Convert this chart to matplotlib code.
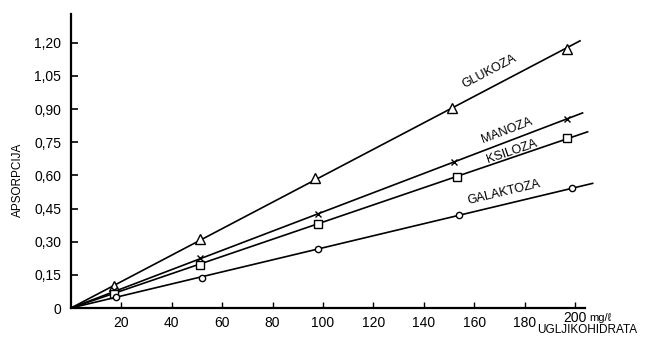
import numpy as np
import matplotlib
matplotlib.use("Agg")
import matplotlib.pyplot as plt
from matplotlib.transforms import ScaledTranslation

plt.rcParams['font.family'] = ['Liberation Sans', 'DejaVu Sans']

# concentracija (mg/l) i apsorpcija, ocitano sa slike
x_glukoza = [17, 51, 97, 151, 197]
y_glukoza = [0.100, 0.312, 0.588, 0.905, 1.172]
x_manoza = [17, 51, 98, 152, 197]
y_manoza = [0.081, 0.226, 0.425, 0.661, 0.855]
x_ksiloza = [17, 51, 98, 153, 197]
y_ksiloza = [0.063, 0.195, 0.380, 0.593, 0.769]
x_galaktoza = [18, 52, 98, 154, 199]
y_galaktoza = [0.050, 0.136, 0.267, 0.420, 0.543]

names = ["GLUKOZA", "MANOZA", "KSILOZA", "GALAKTOZA"]
line_end = [202, 203, 205, 207]
label_pos = [(166, 1.068), (173, 0.800), (175, 0.706), (172, 0.525)]

x_ticks = [20, 40, 60, 80, 100, 120, 140, 160, 180, 200]
y_ticks = [0, 0.15, 0.30, 0.45, 0.60, 0.75, 0.90, 1.05, 1.20]
y_labels = ["0", "0,15", "0,30", "0,45", "0,60", "0,75", "0,90", "1,05", "1,20"]

series = [(x_glukoza, y_glukoza, '^', 7),
          (x_manoza, y_manoza, 'x', 5),
          (x_ksiloza, y_ksiloza, 's', 6),
          (x_galaktoza, y_galaktoza, 'o', 4.5)]

fig = plt.figure(figsize=(6.49, 3.39), dpi=100)
ax = fig.add_axes([71 / 649, 31 / 339, 567 / 649, 294 / 339])
ax.set_xlim(0, 225)
ax.set_ylim(0, 1.33)

for (xs, ys, mk, ms), name, xe, (lx, ly) in zip(series, names, line_end, label_pos):
    xs = np.array(xs, dtype=float)
    ys = np.array(ys)
    k = np.sum(xs * ys) / np.sum(xs * xs)  # pravac kroz ishodiste
    ax.plot([0, xe], [0, k * xe], color='black', lw=1.2)
    ax.plot(xs, ys, linestyle='none', marker=mk, ms=ms, mfc='white',
            mec='black', mew=1.0, color='black')
    # kut natpisa prema nagibu pravca na slici
    p0 = ax.transData.transform((0, 0))
    p1 = ax.transData.transform((xe, k * xe))
    ang = np.degrees(np.arctan2(p1[1] - p0[1], p1[0] - p0[0]))
    ax.text(lx, ly, name, rotation=ang, ha='center', va='center',
            fontsize=9, rotation_mode='anchor')

for s in ['top', 'right']:
    ax.spines[s].set_visible(False)
ax.spines['left'].set_linewidth(1.6)
ax.spines['bottom'].set_linewidth(1.6)
ax.spines['bottom'].set_bounds(0, 204)

ax.set_xticks(x_ticks)
ax.set_xticklabels([str(v) for v in x_ticks])
ax.set_yticks(y_ticks)
ax.set_yticklabels(y_labels)
ax.tick_params(axis='x', direction='in', length=4, width=1, pad=6, labelsize=10)
ax.tick_params(axis='y', direction='in', length=5, width=1.2, pad=7, labelsize=10)

# "200" je na slici malo podignut
lbl = ax.get_xticklabels()[-1]
lbl.set_transform(lbl.get_transform() + ScaledTranslation(0, 4 / 72, fig.dpi_scale_trans))

ax.text(205.5, -0.060, "mg/ℓ", fontsize=8, ha='left', va='baseline',
        family=['Liberation Sans', 'DejaVu Sans'])
ax.text(224.6, -0.074, "UGLJIKOHIDRATA", fontsize=8.5, ha='right', va='top')
fig.text(18 / 649, 1 - 180 / 339, "APSORPCIJA", rotation=90, fontsize=8.5,
         ha='center', va='center')

fig.savefig("out.png", dpi=100)
